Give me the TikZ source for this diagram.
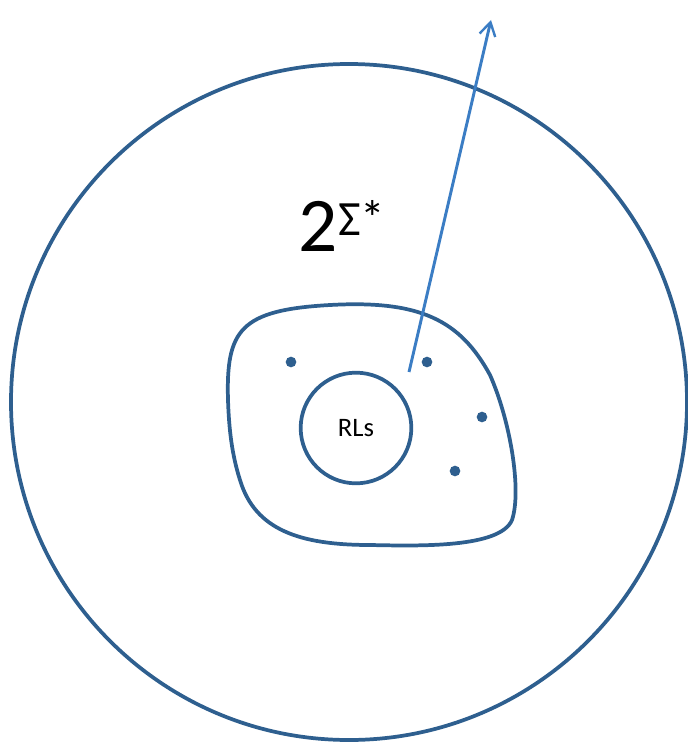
\documentclass[tikz,border=0pt]{standalone}
\usepackage{fontspec}
\setmainfont{Carlito}
\usetikzlibrary{arrows.meta}
\definecolor{setblue}{HTML}{2E5F8F}
\definecolor{arrowblue}{HTML}{3B7DC4}
\begin{document}
\begin{tikzpicture}[x=0.75pt,y=-0.75pt,>={Straight Barb[length=10pt,width=12pt,line width=1.8pt]}]
\useasboundingbox (0,0) rectangle (688,742);
\tikzset{
  setline/.style={draw=setblue,line width=2.8pt},
  elem/.style={circle,fill=setblue,inner sep=0pt,minimum size=8pt}
}
\node[setline,circle,minimum size=507pt,inner sep=0pt] (universe) at (349,402) {};
\node at (342,226) {{\fontsize{58}{60}\selectfont 2}\raisebox{12pt}{\fontsize{37}{40}\selectfont Σ*}};
% the blob of languages round the regular ones
\draw[setline] (228,400) .. controls (226,330) and (240,310) .. (330,305)
  .. controls (420,300) and (460,320) .. (490,375)
  .. controls (510,420) and (522,490) .. (512,520)
  .. controls (500,548) and (420,546) .. (370,545)
  .. controls (300,545) and (255,530) .. (240,480)
  .. controls (232,455) and (229,430) .. cycle;
\node[setline,circle,minimum size=83pt,inner sep=0pt,font=\fontsize{20}{22}\selectfont] (rls) at (356,428) {RLs};
\node[elem] (d1) at (291,362) {};
\node[elem] (d2) at (427,362) {};
\node[elem] (d3) at (482,417) {};
\node[elem] (d4) at (455,471) {};
\coordinate (from) at (409,372);
\coordinate (to) at (491,20);
\draw[->,arrowblue,line width=2.2pt] (from) -- (to);
\end{tikzpicture}
\end{document}
